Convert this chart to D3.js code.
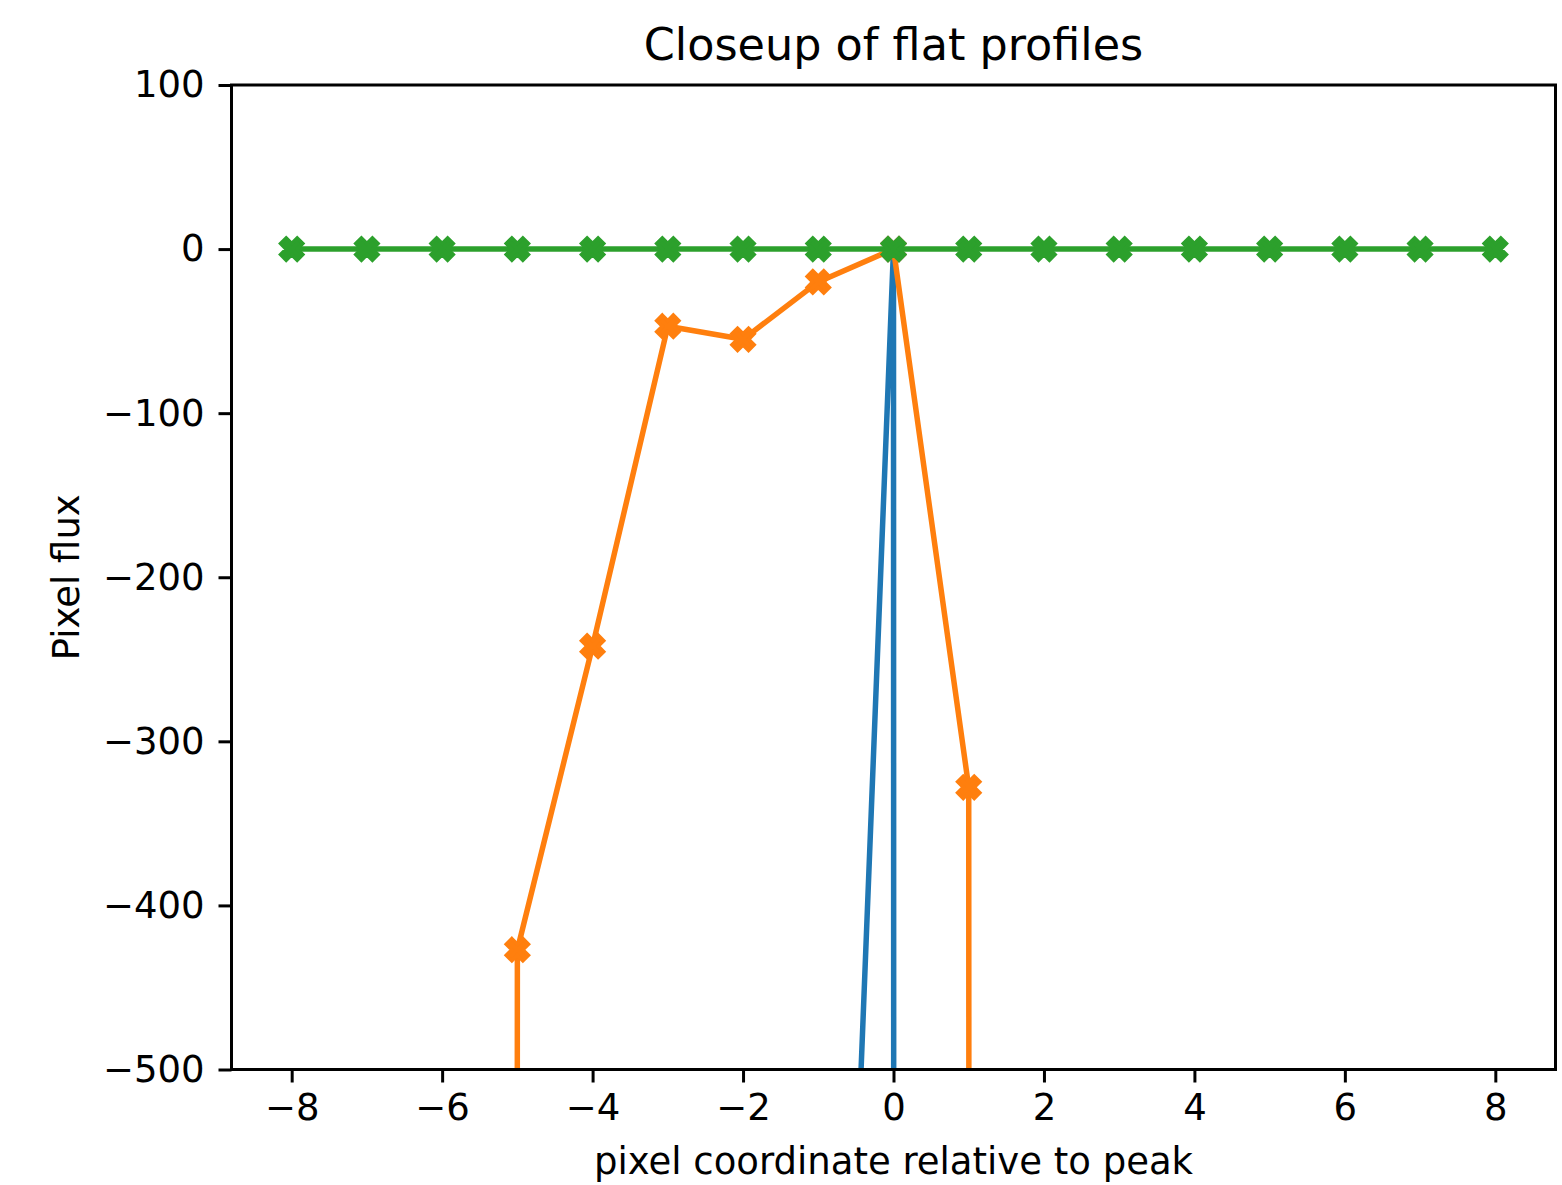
<!DOCTYPE html>
<html>
<head>
<meta charset="utf-8">
<script src="https://cdn.jsdelivr.net/npm/d3@7"></script>
<style>
  body { margin: 0; background: #fff; }
  svg { font-family: 'DejaVu Sans', sans-serif; }
</style>
</head>
<body>
<div id="chart"></div>
<script>
const W = 1562, H = 1185;
const margin = { top: 85, right: 6.5, bottom: 115.5, left: 231.5 };

// profiles (points far off the bottom of the view are rough guesses)
const blueX = [-1, 0, 1];
const blueY = [-1160, 0, -200000];

const orangeX = [-6, -5, -4, -3, -2, -1, 0, 1, 2];
const orangeY = [-100000, -427, -242, -47, -55, -20, 0, -328, -100000];

const greenX = [-8, -7, -6, -5, -4, -3, -2, -1, 0, 1, 2, 3, 4, 5, 6, 7, 8];
const greenY = [0, 0, 0, 0, 0, 0, 0, 0, 0, 0, 0, 0, 0, 0, 0, 0, 0];

const xTicks = [-8, -6, -4, -2, 0, 2, 4, 6, 8];
const yTicks = [100, 0, -100, -200, -300, -400, -500];

const series = [
  { xs: blueX, ys: blueY, color: '#1f77b4' },
  { xs: orangeX, ys: orangeY, color: '#ff7f0e' },
  { xs: greenX, ys: greenY, color: '#2ca02c' }
];

const width = W - margin.left - margin.right;
const height = H - margin.top - margin.bottom;

const svg = d3.select('#chart').append('svg')
  .attr('width', W).attr('height', H);

svg.append('defs').append('clipPath').attr('id', 'plot-clip')
  .append('rect').attr('width', width).attr('height', height);

const g = svg.append('g').attr('transform', `translate(${margin.left},${margin.top})`);

const x = d3.scaleLinear().domain([-8.8, 8.8]).range([0, width]);
const y = d3.scaleLinear().domain([-500, 100]).range([height, 0]);

const fmt = d => String(d).replace('-', '\u2212');

// matplotlib filled 'X' marker outline, unit size
const xMarkerPts = [[-1, -2], [0, -1], [1, -2], [2, -1], [1, 0], [2, 1],
  [1, 2], [0, 1], [-1, 2], [-2, 1], [-1, 0], [-2, -1]].map(([a, b]) => [a / 4, b / 4]);
const markerSize = 22;
const markerPath = 'M' + xMarkerPts.map(([a, b]) => `${a * markerSize},${b * markerSize}`).join('L') + 'Z';

const plot = g.append('g').attr('clip-path', 'url(#plot-clip)');

const line = d3.line().x(d => x(d[0])).y(d => y(d[1]));

series.forEach(s => {
  const pts = s.xs.map((v, i) => [v, s.ys[i]]);
  plot.append('path')
    .datum(pts)
    .attr('d', line)
    .attr('fill', 'none')
    .attr('stroke', s.color)
    .attr('stroke-width', 5.5)
    .attr('stroke-linejoin', 'round')
    .attr('stroke-linecap', 'butt');

  plot.selectAll(null)
    .data(pts.filter(d => d[1] >= -600))
    .join('path')
    .attr('d', markerPath)
    .attr('transform', d => `translate(${x(d[0])},${y(d[1])})`)
    .attr('fill', s.color)
    .attr('stroke', s.color)
    .attr('stroke-width', 3.7)
    .attr('stroke-linejoin', 'miter');
});

// axes
const xAxis = g.append('g')
  .attr('transform', `translate(0,${height})`)
  .call(d3.axisBottom(x).tickValues(xTicks).tickFormat(fmt).tickSize(13).tickPadding(11));
const yAxis = g.append('g')
  .call(d3.axisLeft(y).tickValues(yTicks).tickFormat(fmt).tickSize(13).tickPadding(14));

[xAxis, yAxis].forEach(ax => {
  ax.select('.domain').remove();
  ax.selectAll('.tick line').attr('stroke', '#000').attr('stroke-width', 3);
  ax.selectAll('.tick text')
    .attr('fill', '#000')
    .style('font-size', '37px')
    .style('font-family', "'DejaVu Sans', sans-serif");
});

g.append('rect')
  .attr('width', width).attr('height', height)
  .attr('fill', 'none')
  .attr('stroke', '#000')
  .attr('stroke-width', 3);

svg.append('text')
  .attr('x', margin.left + width / 2)
  .attr('y', 60)
  .attr('text-anchor', 'middle')
  .style('font-size', '44.5px')
  .text('Closeup of flat profiles');

svg.append('text')
  .attr('x', margin.left + width / 2)
  .attr('y', 1174)
  .attr('text-anchor', 'middle')
  .style('font-size', '37px')
  .text('pixel coordinate relative to peak');

svg.append('text')
  .attr('transform', `translate(79,${margin.top + height / 2}) rotate(-90)`)
  .attr('text-anchor', 'middle')
  .style('font-size', '37px')
  .text('Pixel flux');
</script>
</body>
</html>
